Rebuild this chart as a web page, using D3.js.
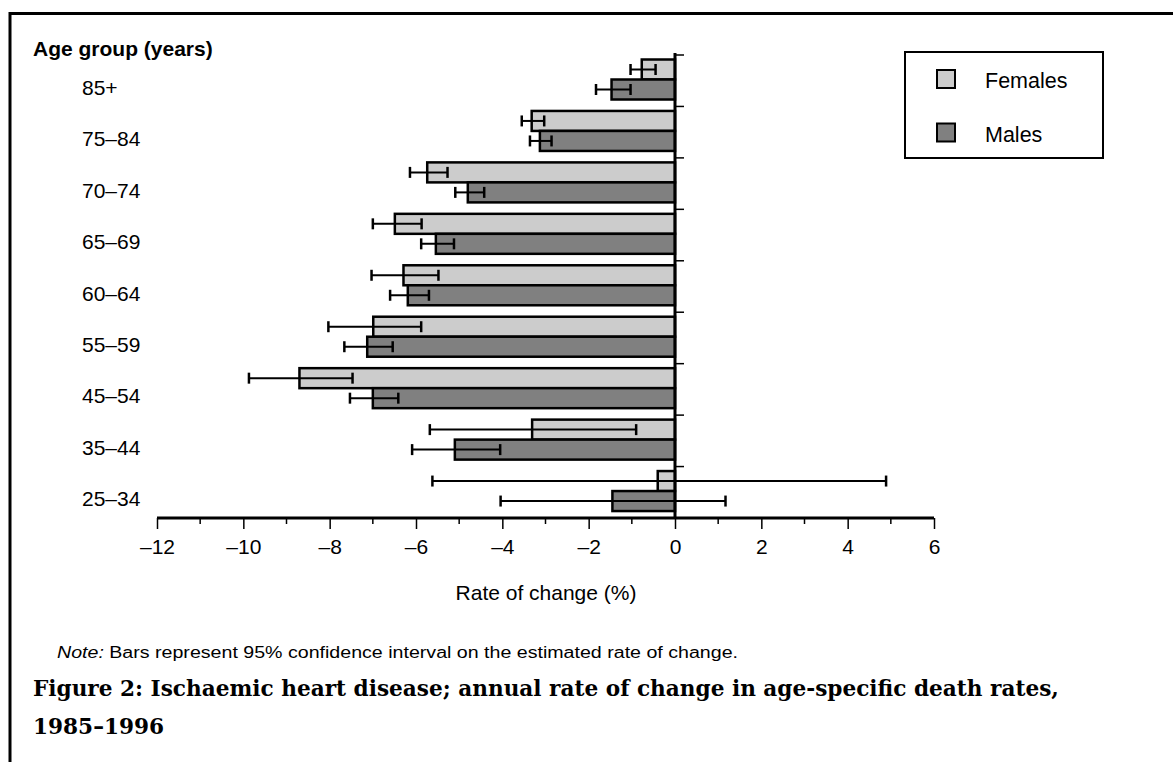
<!DOCTYPE html>
<html>
<head>
<meta charset="utf-8">
<script src="https://cdn.jsdelivr.net/npm/d3@7"></script>
<style>
  html, body { margin: 0; padding: 0; background: #fff; }
  svg { display: block; }
  text { font-family: "Liberation Sans", Arial, sans-serif; fill: #000; }
</style>
</head>
<body>
<svg id="chart" width="1173" height="762"></svg>
<script>
// ---- Data ----
const categories = ["85+", "75–84", "70–74", "65–69", "60–64", "55–59", "45–54", "35–44", "25–34"];
const females     = [-0.77, -3.32, -5.74, -6.49, -6.29, -6.99, -8.70, -3.31, -0.40];
const femalesLow  = [-1.03, -3.55, -6.14, -7.00, -7.03, -8.03, -9.87, -5.68, -5.62];
const femalesHigh = [-0.45, -3.03, -5.27, -5.87, -5.48, -5.88, -7.47, -0.90,  4.89];
const males       = [-1.47, -3.13, -4.80, -5.54, -6.19, -7.13, -7.00, -5.10, -1.45];
const malesLow    = [-1.83, -3.36, -5.09, -5.88, -6.60, -7.66, -7.53, -6.09, -4.04];
const malesHigh   = [-1.03, -2.86, -4.42, -5.12, -5.70, -6.54, -6.41, -4.05,  1.17];
const xTicks = [-12, -10, -8, -6, -4, -2, 0, 2, 4, 6];
const seriesNames = ["Females", "Males"];
const seriesColors = ["#cccccc", "#808080"];

const svg = d3.select("#chart");
const FS = 21;

// Frame
svg.append("path")
  .attr("d", "M10,770 L10,13.5 L1180,13.5")
  .attr("fill", "none").attr("stroke", "#000").attr("stroke-width", 3);

// Scales
const x = d3.scaleLinear().domain([-12, 6]).range([157, 934]);
const y = d3.scaleBand().domain(categories).range([55, 518]).paddingInner(0).paddingOuter(0);
const bh = 20;

const series = [
  { name: "Females", vals: females, lo: femalesLow, hi: femalesHigh, off: 4.5, color: seriesColors[0] },
  { name: "Males", vals: males, lo: malesLow, hi: malesHigh, off: 24.5, color: seriesColors[1] }
];

// Bars
series.forEach(s => {
  svg.append("g").selectAll("rect")
    .data(categories)
    .join("rect")
    .attr("x", (c, i) => Math.min(x(s.vals[i]), x(0)))
    .attr("y", c => y(c) + s.off)
    .attr("width", (c, i) => Math.abs(x(s.vals[i]) - x(0)))
    .attr("height", bh)
    .attr("fill", s.color)
    .attr("stroke", "#000")
    .attr("stroke-width", 2.5);
});

// Error bars
series.forEach(s => {
  const g = svg.append("g").attr("stroke", "#000").attr("stroke-width", 2);
  categories.forEach((c, i) => {
    const cy = y(c) + s.off + bh / 2;
    g.append("line").attr("x1", x(s.lo[i])).attr("x2", x(s.hi[i])).attr("y1", cy).attr("y2", cy);
    [s.lo[i], s.hi[i]].forEach(v => {
      g.append("line").attr("x1", x(v)).attr("x2", x(v)).attr("y1", cy - 5.5).attr("y2", cy + 5.5)
        .attr("stroke-width", 2.5);
    });
  });
});

// Vertical zero axis with ticks on the right at category boundaries
svg.append("line")
  .attr("x1", x(0)).attr("x2", x(0)).attr("y1", 53).attr("y2", 518)
  .attr("stroke", "#000").attr("stroke-width", 3);
svg.append("g").selectAll("line")
  .data(categories)
  .join("line")
  .attr("x1", x(0)).attr("x2", x(0) + 9)
  .attr("y1", c => y(c)).attr("y2", c => y(c))
  .attr("stroke", "#000").attr("stroke-width", 1.5);

// X axis
const xAxisG = svg.append("g").attr("transform", "translate(0,518)");
xAxisG.append("line").attr("x1", x(-12)).attr("x2", x(6)).attr("y1", 0).attr("y2", 0)
  .attr("stroke", "#000").attr("stroke-width", 3);
const minorTicks = d3.range(-12, 7, 1).filter(v => xTicks.indexOf(v) < 0);
xAxisG.append("g").selectAll("line").data(minorTicks).join("line")
  .attr("x1", d => x(d)).attr("x2", d => x(d)).attr("y1", 0).attr("y2", 6)
  .attr("stroke", "#000").attr("stroke-width", 1.5);
const xAxis = d3.axisBottom(x).tickValues(xTicks).tickSize(11).tickPadding(10)
  .tickFormat(d => d < 0 ? "–" + Math.abs(d) : String(d));
const ax = xAxisG.append("g").call(xAxis);
ax.select(".domain").remove();
ax.selectAll(".tick line").attr("stroke", "#000").attr("stroke-width", 1.5);
ax.selectAll(".tick text").attr("font-size", FS).attr("font-family", "Liberation Sans, Arial, sans-serif").attr("fill", "#000");

// Axis title
svg.append("text").attr("x", 546).attr("y", 599.5).attr("text-anchor", "middle")
  .attr("font-size", FS).text("Rate of change (%)");

// Y labels
svg.append("g").selectAll("text").data(categories).join("text")
  .attr("x", 82).attr("y", c => y(c) + y.bandwidth() / 2 + 14)
  .attr("font-size", FS).text(c => c);
svg.append("text").attr("x", 33).attr("y", 55.5).attr("font-size", FS).attr("font-weight", "bold")
  .text("Age group (years)");

// Legend
svg.append("rect").attr("x", 905).attr("y", 52).attr("width", 198).attr("height", 106)
  .attr("fill", "#fff").attr("stroke", "#000").attr("stroke-width", 2);
seriesNames.forEach((n, i) => {
  const ly = 70 + i * 53.5;
  svg.append("rect").attr("x", 937).attr("y", ly).attr("width", 18).attr("height", 18)
    .attr("fill", seriesColors[i]).attr("stroke", "#000").attr("stroke-width", 2);
  svg.append("text").attr("x", 985).attr("y", ly + 18).attr("font-size", 21.5).text(n);
});

// Note
const note = svg.append("text").attr("x", 57).attr("y", 658).attr("font-size", 16);
note.append("tspan").attr("font-style", "italic").text("Note:");
note.append("tspan").text(" Bars represent 95% confidence interval on the estimated  rate of change.");
const nw = note.node().getComputedTextLength();
if (nw > 0 && Math.abs(nw - 681) > 3) note.attr("textLength", 681).attr("lengthAdjust", "spacingAndGlyphs");

// Title
const t1 = svg.append("text").attr("x", 33).attr("y", 696)
  .style("font-family", "'DejaVu Serif', serif").attr("font-weight", "bold").attr("font-size", 20)
  .text("Figure 2: Ischaemic heart disease; annual rate of change in age-specific death rates,");
const t2 = svg.append("text").attr("x", 33).attr("y", 734)
  .style("font-family", "'DejaVu Serif', serif").attr("font-weight", "bold").attr("font-size", 20)
  .text("1985–1996");
const w1 = t1.node().getComputedTextLength();
if (w1 > 0) {
  const fs = 20 * 1026 / w1;
  t1.attr("font-size", fs);
  t2.attr("font-size", fs);
}
</script>
</body>
</html>
